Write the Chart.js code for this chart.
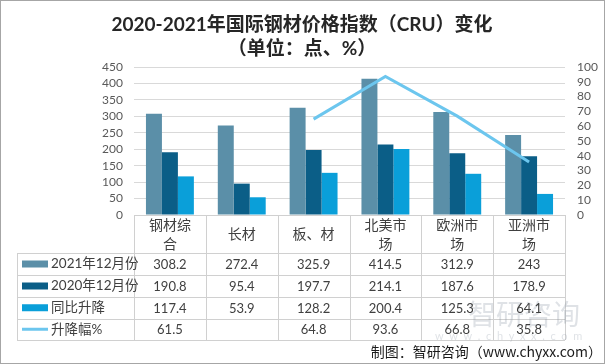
<!DOCTYPE html>
<html>
<head>
<meta charset="utf-8">
<script src="https://cdn.jsdelivr.net/npm/chart.js@4.4.0/dist/chart.umd.min.js"></script>
<style>
  html, body { margin: 0; padding: 0; background: #fff; }
  canvas { display: block; }
</style>
</head>
<body>
<canvas id="priceChart" width="605" height="364"></canvas>
<script>
// data
const categories = [['钢材综', '合'], ['长材'], ['板、材'], ['北美市', '场'], ['欧洲市', '场'], ['亚洲市', '场']];
const seriesNames = ['2021年12月份', '2020年12月份', '同比升降', '升降幅%'];
const dec2021 = [308.2, 272.4, 325.9, 414.5, 312.9, 243];
const dec2020 = [190.8, 95.4, 197.7, 214.1, 187.6, 178.9];
const yoyChange = [117.4, 53.9, 128.2, 200.4, 125.3, 64.1];
const yoyPercent = [61.5, null, 64.8, 93.6, 66.8, 35.8];
const leftTicks = [0, 50, 100, 150, 200, 250, 300, 350, 400, 450];
const rightTicks = [0, 10, 20, 30, 40, 50, 60, 70, 80, 90, 100];

const colors = ['#5b8fa8', '#0b5e87', '#0a9fd9', '#6cc6ee'];
const FONT = "Lato, 'Noto Sans CJK SC', sans-serif";
const CJK = "'Noto Sans CJK SC', sans-serif";

// title, data table, source note and border drawn on the canvas
const tablePlugin = {
    id: 'tablePlugin',
    afterDraw(chart) {
        const ctx = chart.ctx;
        const x = chart.scales.x;
        const area = chart.chartArea;
        const n = categories.length;
        const colW = (x.right - x.left) / n;
        const rows = [253, 275, 297, 318.5, 340];
        const tableLeft = 17;

        ctx.save();

        // title
        ctx.fillStyle = '#262626';
        ctx.textAlign = 'center';
        ctx.textBaseline = 'middle';
        ctx.font = 'bold 19px ' + FONT;
        ctx.fillText('2020-2021年国际钢材价格指数（CRU）变化', 302, 25);
        ctx.fillText('（单位：点、%）', 302, 49);

        // grid of the table
        ctx.strokeStyle = '#d0d0d0';
        ctx.lineWidth = 1;
        ctx.beginPath();
        ctx.moveTo(x.left, area.bottom + 0.5);
        ctx.lineTo(x.right, area.bottom + 0.5);
        rows.forEach(function (r) {
            ctx.moveTo(tableLeft, Math.round(r) + 0.5);
            ctx.lineTo(x.right, Math.round(r) + 0.5);
        });
        for (let i = 0; i <= n; i++) {
            const px = Math.round(x.left + i * colW) + 0.5;
            ctx.moveTo(px, area.bottom);
            ctx.lineTo(px, rows[rows.length - 1]);
        }
        ctx.moveTo(tableLeft + 0.5, rows[0]);
        ctx.lineTo(tableLeft + 0.5, rows[rows.length - 1]);
        ctx.stroke();

        // category header
        ctx.fillStyle = '#404040';
        ctx.font = '14px ' + CJK;
        categories.forEach(function (lines, i) {
            const cx = x.getPixelForValue(i);
            const mid = (area.bottom + rows[0]) / 2;
            if (lines.length === 1) {
                ctx.fillText(lines[0], cx, mid);
            } else {
                ctx.fillText(lines[0], cx, mid - 9.5);
                ctx.fillText(lines[1], cx, mid + 10);
            }
        });

        // watermark
        ctx.fillStyle = 'rgba(140, 152, 165, 0.28)';
        ctx.font = '28px ' + CJK;
        ctx.textAlign = 'left';
        ctx.fillText('智研咨询', 468, 314);
        ctx.font = '11px ' + FONT;
        ctx.fillText('w  w  w  .  c  h  y  x  x  .  c  o  m', 435, 336);

        // series rows
        chart.data.datasets.forEach(function (ds, k) {
            const cy = (rows[k] + rows[k + 1]) / 2;
            ctx.textAlign = 'left';
            ctx.fillStyle = '#404040';
            ctx.font = '13.5px ' + FONT;
            ctx.fillText(ds.label, 51, cy);
            if (ds.type === 'line') {
                ctx.strokeStyle = ds.borderColor;
                ctx.lineWidth = 3;
                ctx.beginPath();
                ctx.moveTo(22, cy);
                ctx.lineTo(48, cy);
                ctx.stroke();
            } else {
                ctx.fillStyle = ds.backgroundColor;
                ctx.fillRect(22, cy - 3.5, 26, 7);
            }
            ctx.textAlign = 'center';
            ctx.fillStyle = '#404040';
            ctx.font = '13px ' + FONT;
            ds.data.forEach(function (v, i) {
                if (v !== null) ctx.fillText(String(v), x.getPixelForValue(i), cy + 1);
            });
        });

        // source note
        ctx.fillStyle = '#1a1a1a';
        ctx.font = '14px ' + CJK;
        ctx.textAlign = 'right';
        ctx.fillText('制图：智研咨询（www.chyxx.com）', 602, 352);

        // outer border
        ctx.strokeStyle = '#a6a6a6';
        ctx.lineWidth = 1;
        ctx.strokeRect(0.5, 0.5, chart.width - 1, chart.height - 1);
        ctx.restore();
    }
};

const ctx = document.getElementById('priceChart').getContext('2d');
const chart = new Chart(ctx, {
    type: 'bar',
    data: {
        labels: categories,
        datasets: [
            { label: seriesNames[0], data: dec2021, backgroundColor: colors[0], yAxisID: 'y', order: 1 },
            { label: seriesNames[1], data: dec2020, backgroundColor: colors[1], yAxisID: 'y', order: 1 },
            { label: seriesNames[2], data: yoyChange, backgroundColor: colors[2], yAxisID: 'y', order: 1 },
            {
                type: 'line', label: seriesNames[3], data: yoyPercent, yAxisID: 'y1', order: 0,
                borderColor: colors[3], backgroundColor: colors[3], borderWidth: 3,
                pointRadius: 0, tension: 0, spanGaps: false
            }
        ]
    },
    options: {
        responsive: false,
        animation: false,
        devicePixelRatio: 1,
        layout: { padding: { left: 0, right: 0, top: 67, bottom: 149 } },
        datasets: {
            bar: { categoryPercentage: 0.667, barPercentage: 1.0 }
        },
        plugins: {
            legend: { display: false },
            title: { display: false },
            tooltip: { enabled: false }
        },
        scales: {
            x: { display: false, offset: true },
            y: {
                position: 'left',
                min: leftTicks[0],
                max: leftTicks[leftTicks.length - 1],
                afterFit: function (s) { s.width = 134; },
                afterBuildTicks: function (s) { s.ticks = leftTicks.map(v => ({ value: v })); },
                grid: { color: '#d9d9d9', drawTicks: false },
                border: { display: false },
                ticks: { autoSkip: false, color: '#595959', font: { size: 12, family: FONT }, padding: 11 }
            },
            y1: {
                position: 'right',
                min: rightTicks[0],
                max: rightTicks[rightTicks.length - 1],
                afterFit: function (s) { s.width = 40; },
                afterBuildTicks: function (s) { s.ticks = rightTicks.map(v => ({ value: v })); },
                grid: { display: false, drawTicks: false },
                border: { display: false },
                ticks: { autoSkip: false, color: '#595959', font: { size: 12, family: FONT }, padding: 12 }
            }
        }
    },
    plugins: [tablePlugin]
});
</script>
</body>
</html>
